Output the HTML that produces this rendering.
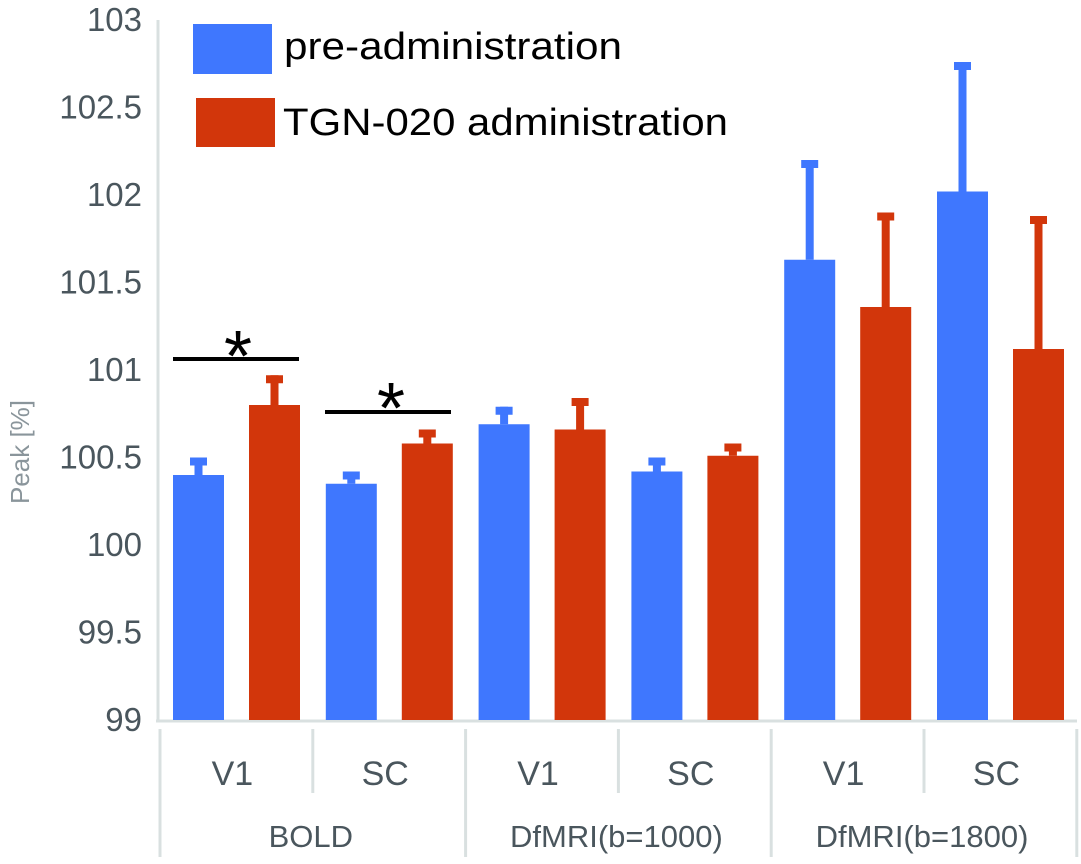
<!DOCTYPE html>
<html><head><meta charset="utf-8"><style>html,body{margin:0;padding:0;background:#fff}svg{display:block}</style></head>
<body>
<svg id="chart" width="1081" height="864" viewBox="0 0 1081 864" xmlns="http://www.w3.org/2000/svg" font-family="Liberation Sans, Arial, sans-serif">
<g id="axes"></g><g id="bars"></g><g id="annot"></g><g id="legend"></g>
</svg>
<script>
const groups = ["BOLD", "DfMRI(b=1000)", "DfMRI(b=1800)"];
const regions = ["V1", "SC", "V1", "SC", "V1", "SC"];
const preValues = [100.40, 100.35, 100.69, 100.42, 101.63, 102.02];
const preErrTops = [100.50, 100.42, 100.79, 100.50, 102.20, 102.76];
const tgnValues = [100.80, 100.58, 100.66, 100.51, 101.36, 101.12];
const tgnErrTops = [100.97, 100.66, 100.84, 100.58, 101.90, 101.88];
const yTicks = [99, 99.5, 100, 100.5, 101, 101.5, 102, 102.5, 103];
const yTickLabels = ["99", "99.5", "100", "100.5", "101", "101.5", "102", "102.5", "103"];

const NS = "http://www.w3.org/2000/svg";
const X0 = 160, CW = 152.8, Y0 = 720, PX = 175;
function y(v){ return Y0 - (v - 99) * PX; }
function xCat(i){ return X0 + i * CW; }
function mk(parent, tag, attrs, text){
  const e = document.createElementNS(NS, tag);
  for (const k in attrs) e.setAttribute(k, attrs[k]);
  if (text !== undefined) e.textContent = text;
  document.getElementById(parent).appendChild(e);
  return e;
}
const BLUE = "#3f77fe", RED = "#d2360b", AX = "#d9e0e0", TXT = "#4a565d";

let e;
e = mk("axes", "line", {x1:158, y1:20, x2:158, y2:722, stroke:AX, "stroke-width":3});


e = mk("axes", "line", {x1:156, y1:721, x2:1077, y2:721, stroke:AX, "stroke-width":3});


yTicks.forEach((t, i) => {
  e = mk("axes", "text", {x:142, y:y(t) + 11, "text-anchor":"end", "font-size":33, fill:TXT}, yTickLabels[i]);
  
  
});
e = mk("axes", "text", {x:0, y:0, transform:"translate(29,452) rotate(-90)", "text-anchor":"middle", "font-size":26, fill:"#8a959b"}, "Peak [%]");


for (let i = 0; i <= regions.length; i++) {
  const full = i % 2 === 0;
  e = mk("axes", "line", {x1:xCat(i), y1:729, x2:xCat(i), y2:full ? 857 : 793, stroke:AX, "stroke-width":3});
  
  
}
regions.forEach((r, i) => {
  e = mk("axes", "text", {x:xCat(i) + CW / 2 - 4, y:785, "text-anchor":"middle", "font-size":34, fill:TXT}, r);
  
  
});
groups.forEach((g, i) => {
  e = mk("axes", "text", {x:xCat(2 * i) + CW - 2, y:847, "text-anchor":"middle", "font-size":31, fill:TXT}, g);
  
  
});

function bar(i, off, v, err, col, name){
  const x = xCat(i) + off, w = 51;
  e = mk("bars", "rect", {x:x + w / 2 - 4, y:y(err), width:8, height:y(v) - y(err), fill:col});
  
  
  e = mk("bars", "rect", {x:x + w / 2 - 8.5, y:y(err), width:17, height:8, fill:col});
  
  
  e = mk("bars", "rect", {x:x, y:y(v), width:w, height:Y0 - y(v), fill:col});
  
  
}
regions.forEach((r, i) => {
  bar(i, 13, preValues[i], preErrTops[i], BLUE, 'pre');
  bar(i, 89, tgnValues[i], tgnErrTops[i], RED, 'tgn');
});

e = mk("annot", "rect", {x:173, y:357, width:126, height:4, fill:"#000"});


e = mk("annot", "text", {x:238, y:381, "text-anchor":"middle", "font-size":72, fill:"#000"}, "*");


e = mk("annot", "rect", {x:325, y:410, width:126, height:4, fill:"#000"});


e = mk("annot", "text", {x:391, y:433, "text-anchor":"middle", "font-size":72, fill:"#000"}, "*");



e = mk("legend", "rect", {x:193, y:24, width:79, height:50, fill:BLUE});


e = mk("legend", "text", {x:284, y:59, "font-size":38, fill:"#000", textLength:338, lengthAdjust:"spacingAndGlyphs"}, "pre-administration");


e = mk("legend", "rect", {x:196, y:98, width:79, height:49, fill:RED});


e = mk("legend", "text", {x:283, y:135, "font-size":38, fill:"#000", textLength:445, lengthAdjust:"spacingAndGlyphs"}, "TGN-020 administration");


</script>
</body></html>
